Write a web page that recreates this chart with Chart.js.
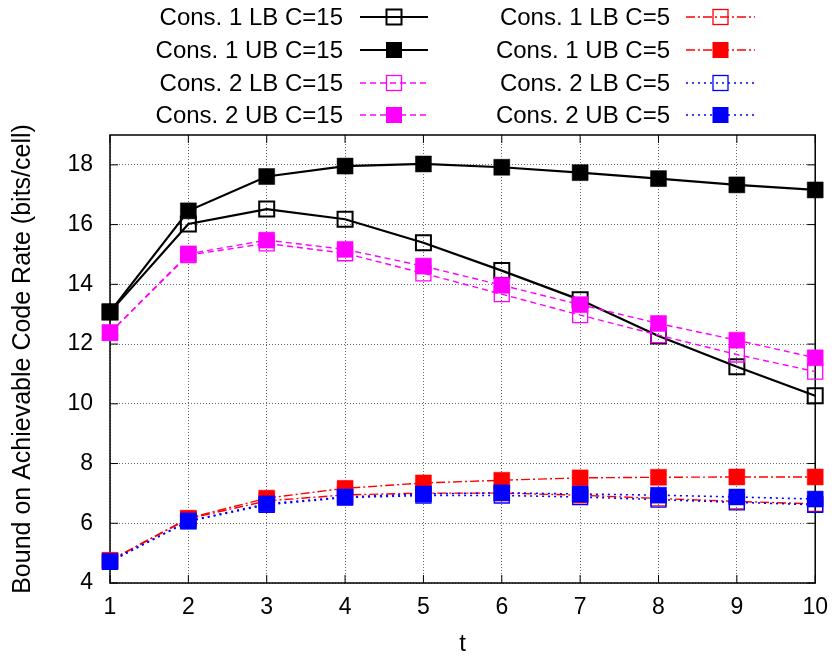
<!DOCTYPE html>
<html>
<head>
<meta charset="utf-8">
<script src="https://cdn.jsdelivr.net/npm/chart.js@4/dist/chart.umd.min.js"></script>
<style>
  html, body { margin: 0; padding: 0; background: #fff; }
  canvas { display: block; }
</style>
</head>
<body>
<canvas id="rateChart" width="839" height="660"></canvas>
<script>
const tValues = [1, 2, 3, 4, 5, 6, 7, 8, 9, 10];
const yTicks = [4, 6, 8, 10, 12, 14, 16, 18];

const labels = [
    'Cons. 1 LB C=15', 'Cons. 1 UB C=15', 'Cons. 2 LB C=15', 'Cons. 2 UB C=15',
    'Cons. 1 LB C=5', 'Cons. 1 UB C=5', 'Cons. 2 LB C=5', 'Cons. 2 UB C=5'
];

const cons1LB15 = [13.07, 16.02, 16.52, 16.18, 15.39, 14.46, 13.48, 12.27, 11.24, 10.27];
const cons1UB15 = [13.08, 16.46, 17.61, 17.96, 18.03, 17.92, 17.74, 17.54, 17.33, 17.16];
const cons2LB15 = [12.38, 14.98, 15.37, 15.04, 14.37, 13.67, 12.97, 12.30, 11.65, 11.08];
const cons2UB15 = [12.38, 15.02, 15.48, 15.17, 14.61, 13.97, 13.32, 12.69, 12.13, 11.54];
const cons1LB5 = [4.75, 6.15, 6.75, 6.95, 7.01, 7.01, 6.94, 6.83, 6.73, 6.65];
const cons1UB5 = [4.76, 6.17, 6.84, 7.17, 7.35, 7.44, 7.52, 7.54, 7.55, 7.55];
const cons2LB5 = [4.71, 6.06, 6.62, 6.86, 6.93, 6.93, 6.88, 6.79, 6.70, 6.62];
const cons2UB5 = [4.72, 6.08, 6.65, 6.88, 6.98, 7.02, 6.98, 6.94, 6.88, 6.81];

const FONT = "'Liberation Sans', Arial, Helvetica, sans-serif";

// line styles: color, dash, width, filled marker or not
const styles = [
    { color: '#000000', dash: [], width: 2.2, filled: false },
    { color: '#000000', dash: [], width: 2.2, filled: true },
    { color: '#ff00ff', dash: [6, 4], width: 1.4, filled: false },
    { color: '#ff00ff', dash: [6, 4], width: 1.4, filled: true },
    { color: '#ff0000', dash: [9, 3, 2, 3], width: 1.4, filled: false },
    { color: '#ff0000', dash: [9, 3, 2, 3], width: 1.4, filled: true },
    { color: '#0000ff', dash: [2, 4], width: 1.6, filled: false },
    { color: '#0000ff', dash: [2, 4], width: 1.6, filled: true }
];

const series = [cons1LB15, cons1UB15, cons2LB15, cons2UB15, cons1LB5, cons1UB5, cons2LB5, cons2UB5];

const datasets = series.map((values, i) => {
    const s = styles[i];
    return {
        label: labels[i],
        data: tValues.map((t, k) => ({ x: t, y: values[k] })),
        borderColor: s.color,
        borderWidth: s.width,
        borderDash: s.dash,
        tension: 0,
        fill: false,
        clip: false,
        order: series.length - i,
        pointStyle: 'rect',
        pointRadius: s.filled ? 11.3 : 10.6,
        pointBorderWidth: s.filled ? 0.5 : (s.color === '#000000' ? 2 : 1.3),
        pointBorderColor: s.color,
        pointBackgroundColor: s.filled ? s.color : 'rgba(0,0,0,0)'
    };
});

// plot frame plus short inward tick marks, under the data
const framePlugin = {
    id: 'frame',
    beforeDatasetsDraw(chart) {
        const { ctx, chartArea: a, scales } = chart;
        ctx.save();
        ctx.strokeStyle = '#000';
        ctx.lineWidth = 1;
        ctx.setLineDash([]);
        ctx.beginPath();
        scales.y.ticks.forEach(t => {
            const y = scales.y.getPixelForValue(t.value);
            ctx.moveTo(a.left, y); ctx.lineTo(a.left + 8, y);
            ctx.moveTo(a.right, y); ctx.lineTo(a.right - 8, y);
        });
        scales.x.ticks.forEach(t => {
            const x = scales.x.getPixelForValue(t.value);
            ctx.moveTo(x, a.bottom); ctx.lineTo(x, a.bottom - 8);
            ctx.moveTo(x, a.top); ctx.lineTo(x, a.top + 8);
        });
        ctx.stroke();
        ctx.lineWidth = 1.5;
        ctx.strokeRect(a.left, a.top, a.right - a.left, a.bottom - a.top);
        ctx.restore();
    }
};

// two-column key above the plot: label on the left, sample on the right
const keyPlugin = {
    id: 'key',
    afterDraw(chart) {
        const ctx = chart.ctx;
        const cols = [
            { textRight: 343, x1: 360, x2: 428 },
            { textRight: 670, x1: 686, x2: 755 }
        ];
        const rows = [17, 50, 83, 115];
        ctx.save();
        ctx.font = '24px ' + FONT;
        ctx.textAlign = 'right';
        ctx.textBaseline = 'middle';
        chart.data.datasets.forEach((ds, i) => {
            const c = cols[Math.floor(i / 4)];
            const y = rows[i % 4];
            const s = styles[i];
            ctx.fillStyle = '#000';
            ctx.fillText(ds.label, c.textRight, y + 1);
            ctx.strokeStyle = s.color;
            ctx.lineWidth = s.width;
            ctx.setLineDash(s.dash);
            ctx.beginPath();
            ctx.moveTo(c.x1, y);
            ctx.lineTo(c.x2, y);
            ctx.stroke();
            ctx.setLineDash([]);
            const mx = (c.x1 + c.x2) / 2;
            const half = s.filled ? 8 : 7.5;
            if (s.filled) {
                ctx.fillStyle = s.color;
                ctx.fillRect(mx - half, y - half, half * 2, half * 2);
            } else {
                ctx.lineWidth = ds.pointBorderWidth;
                ctx.strokeRect(mx - half, y - half, half * 2, half * 2);
            }
        });
        ctx.restore();
    }
};

new Chart(document.getElementById('rateChart'), {
    type: 'line',
    data: { datasets },
    options: {
        responsive: false,
        devicePixelRatio: 1,
        animation: false,
        layout: { padding: { top: 135, right: 21, left: 0, bottom: 0 } },
        plugins: {
            legend: { display: false },
            tooltip: { enabled: false }
        },
        scales: {
            x: {
                type: 'linear',
                min: 1,
                max: 10,
                afterFit: s => { s.height = 77; },
                afterBuildTicks: s => { s.ticks = tValues.map(v => ({ value: v })); },
                grid: { color: '#666', lineWidth: 1, drawTicks: false },
                border: { display: false, dash: [1, 2] },
                ticks: {
                    color: '#000',
                    padding: 11,
                    maxRotation: 0,
                    font: { family: FONT, size: 23 }
                },
                title: {
                    display: true,
                    text: 't',
                    color: '#000',
                    padding: { top: 0, bottom: 1 },
                    font: { family: FONT, size: 24 }
                }
            },
            y: {
                min: 4,
                max: 19,
                afterFit: s => { s.width = 110; },
                afterBuildTicks: s => { s.ticks = yTicks.map(v => ({ value: v })); },
                grid: { color: '#666', lineWidth: 1, drawTicks: false },
                border: { display: false, dash: [1, 2] },
                ticks: {
                    color: '#000',
                    padding: 17,
                    font: { family: FONT, size: 23 }
                },
                title: {
                    display: true,
                    text: 'Bound on Achievable Code Rate (bits/cell)',
                    color: '#000',
                    padding: { top: 8, bottom: 0 },
                    font: { family: FONT, size: 25 }
                }
            }
        }
    },
    plugins: [framePlugin, keyPlugin]
});
</script>
</body>
</html>
